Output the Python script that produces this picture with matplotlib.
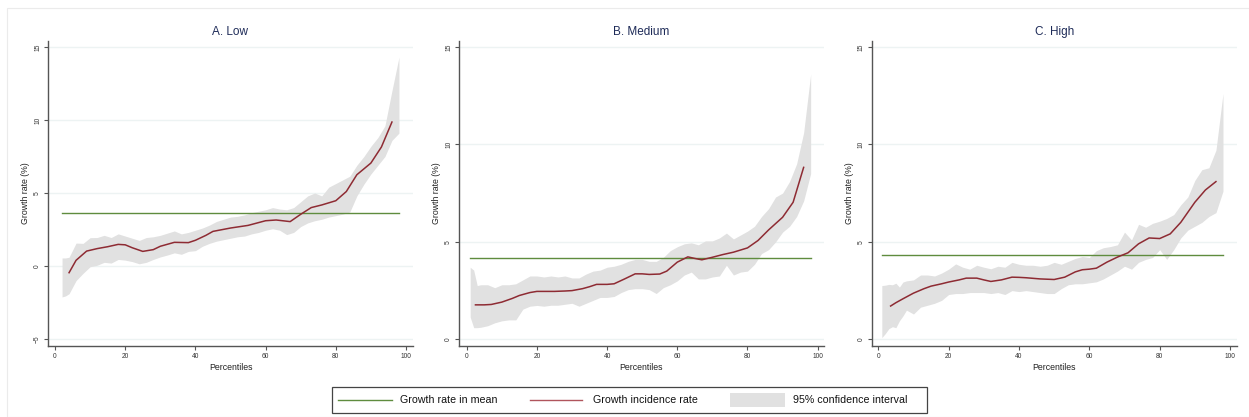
import matplotlib
matplotlib.use("Agg")
import matplotlib.pyplot as plt
from matplotlib.patches import Rectangle
from matplotlib.lines import Line2D

plt.rcParams['font.family'] = ['Liberation Sans', 'DejaVu Sans']

# ---------------- data ----------------
titles = ["A. Low", "B. Medium", "C. High"]
mean_growth = [3.65, 4.18, 4.35]
mean_span = [(2, 98), (1, 98), (1, 98)]

# Panel A
lineA_x = [4, 6, 9, 12, 15, 18, 20, 22, 25, 28, 30, 34, 38, 40, 43, 45, 50, 55, 60,
           63, 67, 70, 73, 76, 80, 83, 86, 90, 93, 96]
lineA_y = [-0.46, 0.39, 1.02, 1.19, 1.32, 1.48, 1.45, 1.25, 1.0, 1.12, 1.35, 1.62, 1.6,
           1.76, 2.1, 2.37, 2.6, 2.78, 3.1, 3.15, 3.04, 3.54, 4.0, 4.18, 4.47, 5.1, 6.25,
           7.05, 8.15, 9.86]
bandA_x = [2, 3, 4, 6, 8, 10, 12, 14, 16, 18, 20, 22, 24, 26, 28, 30, 32, 34, 36, 38, 40,
           42, 44, 46, 48, 50, 52, 54, 56, 58, 60, 62, 64, 66, 68, 70, 72, 74, 76, 78, 80,
           82, 84, 86, 88, 90, 92, 94, 96, 98]
bandA_hi = [0.55, 0.55, 0.6, 1.57, 1.55, 1.94, 1.95, 2.1, 1.95, 2.2, 2.05, 1.9, 1.75, 1.95,
            2.0, 2.1, 2.25, 2.4, 2.2, 2.3, 2.45, 2.6, 2.8, 3.05, 3.2, 3.35, 3.4, 3.5, 3.65,
            3.75, 3.85, 4.0, 3.9, 3.85, 4.0, 4.4, 4.8, 5.0, 4.8, 5.4, 5.65, 5.9, 6.15, 6.9,
            7.5, 8.2, 8.8, 9.6, 12.0, 14.3]
bandA_lo = [-2.12, -2.05, -1.9, -1.0, -0.5, -0.05, 0.05, 0.25, 0.2, 0.45, 0.4, 0.3, 0.15,
            0.25, 0.45, 0.62, 0.75, 0.9, 0.8, 1.0, 1.05, 1.35, 1.55, 1.7, 1.8, 1.9, 2.0,
            2.05, 2.2, 2.3, 2.45, 2.55, 2.45, 2.15, 2.3, 2.7, 2.95, 3.1, 3.2, 3.35, 3.45,
            3.55, 3.7, 4.8, 5.6, 6.3, 6.9, 7.5, 8.6, 9.1]

# Panel B
lineB_x = [2.5, 5, 7, 10, 13, 15, 18, 20, 23, 25, 28, 30, 33, 35, 37, 40, 42, 45, 48, 50,
           52, 55, 57, 60, 63, 65, 67, 70, 73, 76, 80, 83, 86, 90, 93, 96]
lineB_y = [1.77, 1.77, 1.79, 1.91, 2.1, 2.25, 2.4, 2.46, 2.46, 2.46, 2.48, 2.5, 2.6, 2.7,
           2.82, 2.82, 2.85, 3.1, 3.36, 3.36, 3.33, 3.35, 3.5, 3.96, 4.23, 4.15, 4.08, 4.21,
           4.35, 4.47, 4.69, 5.07, 5.61, 6.26, 7.03, 8.82]
bandB_x = [1, 2, 3, 4, 6, 8, 10, 12, 14, 16, 18, 20, 22, 24, 26, 28, 30, 32, 34, 36, 38,
           40, 42, 44, 46, 48, 50, 52, 54, 56, 58, 60, 62, 64, 66, 68, 70, 72, 74, 76, 78,
           80, 82, 84, 86, 88, 90, 92, 94, 96, 98]
bandB_hi = [3.7, 3.55, 2.76, 2.8, 2.8, 2.65, 2.8, 2.8, 2.85, 3.05, 3.25, 3.25, 3.2, 3.25,
            3.2, 3.25, 3.15, 3.15, 3.35, 3.5, 3.55, 3.7, 3.75, 3.85, 4.0, 4.1, 4.1, 4.0,
            4.0, 4.2, 4.55, 4.75, 4.9, 4.95, 4.85, 5.05, 5.05, 5.2, 5.45, 5.15, 5.35, 5.55,
            5.8, 6.3, 6.7, 7.3, 7.5, 8.1, 9.0, 10.6, 13.6]
bandB_lo = [1.14, 0.6, 0.6, 0.62, 0.7, 0.85, 0.95, 1.0, 1.0, 1.55, 1.7, 1.74, 1.7, 1.75,
            1.75, 1.8, 1.85, 1.7, 1.85, 2.0, 2.15, 2.15, 2.2, 2.4, 2.55, 2.6, 2.6, 2.55,
            2.35, 2.65, 2.8, 3.0, 3.3, 3.45, 3.1, 3.1, 3.2, 3.25, 3.8, 3.3, 3.45, 3.5, 3.85,
            4.4, 4.6, 5.0, 5.5, 5.8, 6.3, 7.1, 8.5]

# Panel C
lineC_x = [3.5, 5, 7, 10, 13, 15, 18, 20, 23, 25, 28, 30, 32, 35, 38, 40, 42, 46, 50, 53,
           56, 58, 60, 62, 65, 68, 71, 74, 77, 80, 83, 86, 90, 93, 96]
lineC_y = [1.71, 1.88, 2.08, 2.37, 2.6, 2.73, 2.85, 2.94, 3.05, 3.14, 3.14, 3.05, 2.97,
           3.05, 3.19, 3.18, 3.16, 3.1, 3.07, 3.19, 3.46, 3.57, 3.6, 3.65, 3.96, 4.22,
           4.44, 4.9, 5.2, 5.17, 5.41, 6.0, 7.03, 7.66, 8.09]
bandC_x = [1, 2, 3, 4, 5, 6, 7, 8, 10, 12, 14, 16, 18, 20, 22, 24, 26, 28, 30, 32, 34, 36,
           38, 40, 42, 44, 46, 48, 50, 52, 54, 56, 58, 60, 62, 64, 66, 68, 70, 72, 74, 76,
           78, 80, 82, 84, 86, 88, 90, 92, 94, 96, 98]
bandC_hi = [2.76, 2.78, 2.82, 2.8, 2.88, 2.68, 2.94, 3.0, 3.05, 3.3, 3.3, 3.25, 3.4, 3.6,
            3.87, 3.7, 3.6, 3.8, 3.7, 3.62, 3.75, 3.7, 3.95, 3.85, 3.8, 3.8, 3.75, 3.8,
            3.95, 3.85, 4.0, 4.15, 4.25, 4.2, 4.55, 4.7, 4.76, 4.85, 5.5, 5.1, 5.9, 5.75,
            5.95, 6.06, 6.2, 6.4, 6.9, 7.3, 8.15, 8.7, 8.8, 9.7, 12.6]
bandC_lo = [0.09, 0.3, 0.55, 0.65, 0.6, 0.95, 1.2, 1.5, 1.3, 1.65, 1.75, 1.85, 2.0, 2.3,
            2.35, 2.35, 2.4, 2.4, 2.4, 2.35, 2.4, 2.3, 2.5, 2.45, 2.5, 2.45, 2.4, 2.35,
            2.35, 2.6, 2.8, 2.85, 2.85, 2.9, 2.95, 3.1, 3.3, 3.5, 3.75, 3.6, 3.95, 4.1,
            4.2, 4.6, 4.1, 4.6, 5.2, 5.6, 5.8, 6.0, 6.3, 6.5, 7.6]

legend_labels = ["Growth rate in mean", "Growth incidence rate", "95% confidence interval"]

lines = [(lineA_x, lineA_y), (lineB_x, lineB_y), (lineC_x, lineC_y)]
bands = [(bandA_x, bandA_lo, bandA_hi), (bandB_x, bandB_lo, bandB_hi),
         (bandC_x, bandC_lo, bandC_hi)]
yticks = [[-5, 0, 5, 10, 15], [0, 5, 10, 15], [0, 5, 10, 15]]
xticks = [0, 20, 40, 60, 80, 100]

# ---------------- style ----------------
W, H = 1249, 417
GREEN = "#5F8C3E"
RED = "#8E2B33"
BAND = "#E1E1E1"
GRID = "#EDF3F3"
SPINE = "#555555"
TITLE_C = "#1E2B58"

fig = plt.figure(figsize=(W / 100, H / 100), dpi=100)
fig.patch.set_facecolor("white")

def fx(px):
    return px / W

def fy(py):
    return 1 - py / H

# faint outer frame
fig.patches.append(Rectangle((fx(7), 0), 1.0, fy(8), transform=fig.transFigure,
                             fill=False, edgecolor="#EBEBEB", linewidth=0.8))

# axes pixel geometry: (left, top, right, bottom), xlim, ylim
geoms = [
    ((48, 41, 413, 346), (-2.0, 102.0), (-5.48, 15.41)),
    ((459, 41, 824, 346), (-2.19, 101.8), (-0.34, 15.3)),
    ((871.7, 41, 1236.7, 346), (-1.88, 101.9), (-0.34, 15.3)),
]

for i, (g, xl, yl) in enumerate(geoms):
    l, t, r, b = g
    ax = fig.add_axes([fx(l), fy(b), (r - l) / W, (b - t) / H])
    ax.set_xlim(*xl)
    ax.set_ylim(*yl)
    for yv in yticks[i]:
        ax.axhline(yv, color=GRID, linewidth=1.0, zorder=0)
    bx, blo, bhi = bands[i]
    ax.fill_between(bx, blo, bhi, color=BAND, linewidth=0, zorder=1)
    x0, x1 = mean_span[i]
    ax.plot([x0, x1], [mean_growth[i]] * 2, color=GREEN, linewidth=1.0, zorder=2)
    lx, ly = lines[i]
    ax.plot(lx, ly, color=RED, linewidth=1.1, zorder=3, solid_joinstyle="round")

    for s in ["top", "right"]:
        ax.spines[s].set_visible(False)
    for s in ["left", "bottom"]:
        ax.spines[s].set_color(SPINE)
        ax.spines[s].set_linewidth(1.0)
    ax.set_xticks(xticks)
    ax.set_yticks(yticks[i])
    ax.tick_params(axis="both", length=3, width=0.8, color=SPINE, labelsize=4.8,
                   labelcolor="#333333", pad=2)
    for lab in ax.get_yticklabels():
        lab.set_rotation(90)
        lab.set_va("center")
    ax.set_xlabel("Percentiles", fontsize=6.3, color="#222222", labelpad=2)
    ax.set_ylabel("Growth rate (%)", fontsize=6.3, color="#222222", labelpad=3)
    ax.set_facecolor("white")
    ax.text(0.5, 1 + 9 / (b - t), titles[i], transform=ax.transAxes, ha="center",
            va="center", fontsize=8.5, color=TITLE_C)

# ---------------- legend (drawn manually to match Stata layout) ----------------
leg_y = 400
fig.patches.append(Rectangle((fx(332), fy(413)), fx(927) - fx(332), fy(387) - fy(413),
                             transform=fig.transFigure, fill=False,
                             edgecolor="#444444", linewidth=0.9))
fig.lines.append(Line2D([fx(338), fx(392)], [fy(leg_y)] * 2, transform=fig.transFigure,
                        color=GREEN, linewidth=1.0))
fig.lines.append(Line2D([fx(530), fx(582)], [fy(leg_y)] * 2, transform=fig.transFigure,
                        color="#B0555C", linewidth=1.0))
fig.patches.append(Rectangle((fx(730), fy(407)), fx(785) - fx(730), fy(393) - fy(407),
                             transform=fig.transFigure, facecolor=BAND,
                             edgecolor="none"))
for xpx, lab in zip([400, 593, 793], legend_labels):
    fig.text(fx(xpx), fy(leg_y), lab, ha="left", va="center", fontsize=7.7,
             color="#111111")

fig.savefig("out.png", dpi=100, facecolor="white")
